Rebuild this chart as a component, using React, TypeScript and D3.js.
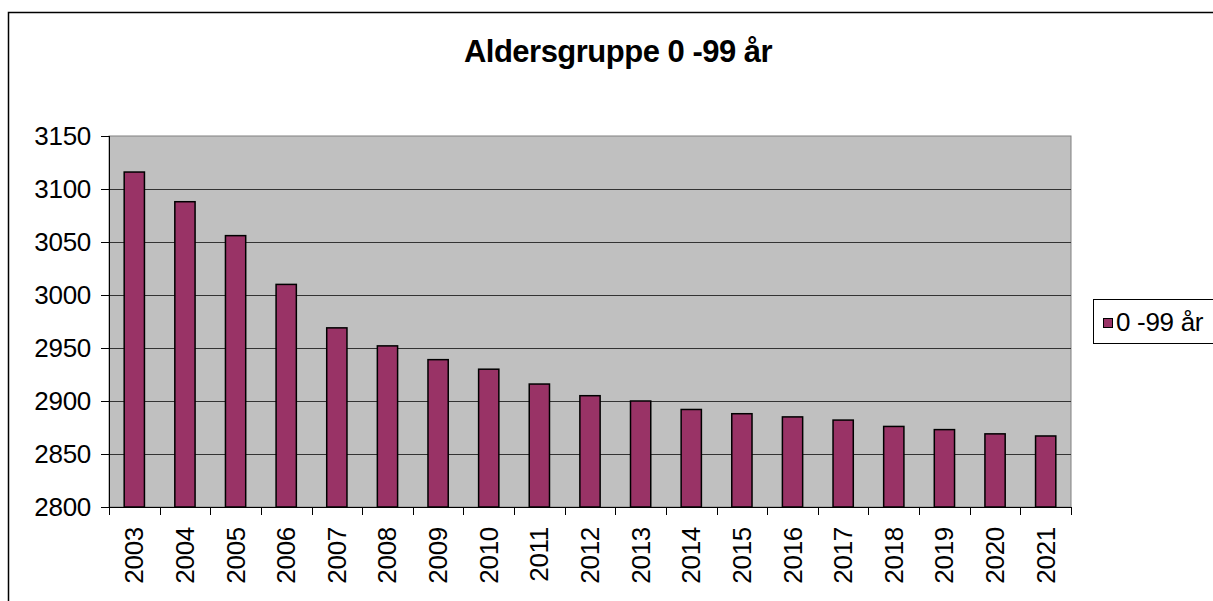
import React from 'react';
import * as d3 from 'd3';

// Data
const years = ['2003', '2004', '2005', '2006', '2007', '2008', '2009', '2010', '2011', '2012', '2013', '2014', '2015', '2016', '2017', '2018', '2019', '2020', '2021'];
const population = [3116, 3088, 3056, 3010, 2969, 2952, 2939, 2930, 2916, 2905, 2900, 2892, 2888, 2885, 2882, 2876, 2873, 2869, 2867];
const yTicks = [2800, 2850, 2900, 2950, 3000, 3050, 3100, 3150];
const seriesName = '0 -99 år';
const title = 'Aldersgruppe 0 -99 år';

const W = 1213;
const H = 601;
const FONT = '"Liberation Sans", Arial, sans-serif';
const BAR = '#993366';

const App = () => {
    // plot area
    const left = 109;
    const right = 1071;
    const top = 136;
    const bottom = 507;

    const xScale = d3.scaleBand().domain(years).range([left, right]).paddingInner(0.6).paddingOuter(0.3);
    const band = (right - left) / years.length;
    const yScale = d3.scaleLinear().domain([2800, 3150]).range([bottom, top]);

    return (
        <svg width={W} height={H} style={{ position: 'absolute', left: 0, top: 0, background: '#fff' }} fontFamily={FONT}>
            {/* outer chart frame */}
            <rect x={8.5} y={12.5} width={W + 20} height={H + 20} fill="#fff" stroke="#000" strokeWidth={1.5} />

            <text x={618} y={62} textAnchor="middle" fontSize={31} fontWeight="bold" letterSpacing={-0.5}>
                {title}
            </text>

            {/* plot background */}
            <rect x={left} y={top} width={right - left} height={bottom - top} fill="#C0C0C0" stroke="#808080" strokeWidth={1} />

            {/* gridlines */}
            {yTicks.slice(1, -1).map((t) => (
                <line key={`g-${t}`} x1={left} x2={right} y1={Math.round(yScale(t)) + 0.5} y2={Math.round(yScale(t)) + 0.5} stroke="#333" strokeWidth={1} />
            ))}

            {/* bars */}
            {years.map((y, i) => (
                <rect
                    key={`bar-${y}`}
                    x={xScale(y)}
                    y={yScale(population[i])}
                    width={xScale.bandwidth()}
                    height={bottom - yScale(population[i])}
                    fill={BAR}
                    stroke="#000"
                    strokeWidth={1.5}
                />
            ))}

            {/* y axis */}
            <line x1={left + 0.5} x2={left + 0.5} y1={top} y2={bottom} stroke="#000" strokeWidth={1} />
            {yTicks.map((t) => (
                <g key={`yt-${t}`}>
                    <line x1={left - 8} x2={left} y1={Math.round(yScale(t)) + 0.5} y2={Math.round(yScale(t)) + 0.5} stroke="#000" />
                    <text x={91} y={yScale(t) + 9} textAnchor="end" fontSize={26} letterSpacing={-0.3}>
                        {t}
                    </text>
                </g>
            ))}

            {/* x axis */}
            <line x1={left} x2={right} y1={bottom + 0.5} y2={bottom + 0.5} stroke="#000" strokeWidth={1} />
            {d3.range(years.length + 1).map((i) => (
                <line key={`xt-${i}`} x1={Math.round(left + i * band) + 0.5} x2={Math.round(left + i * band) + 0.5} y1={bottom} y2={bottom + 8} stroke="#000" />
            ))}
            {years.map((y) => {
                const cx = (xScale(y) ?? 0) + xScale.bandwidth() / 2;
                return (
                    <text key={`xl-${y}`} transform={`translate(${cx + 9}, 527) rotate(-90)`} textAnchor="end" fontSize={26} letterSpacing={-0.3}>
                        {y}
                    </text>
                );
            })}

            {/* legend */}
            <rect x={1093.5} y={299.5} width={140} height={44} fill="#fff" stroke="#000" strokeWidth={1} />
            <rect x={1103.5} y={318.5} width={9} height={9} fill={BAR} stroke="#000" strokeWidth={1} />
            <text x={1116} y={331} fontSize={26} letterSpacing={-0.3}>
                {seriesName}
            </text>
        </svg>
    );
};

export default App;
